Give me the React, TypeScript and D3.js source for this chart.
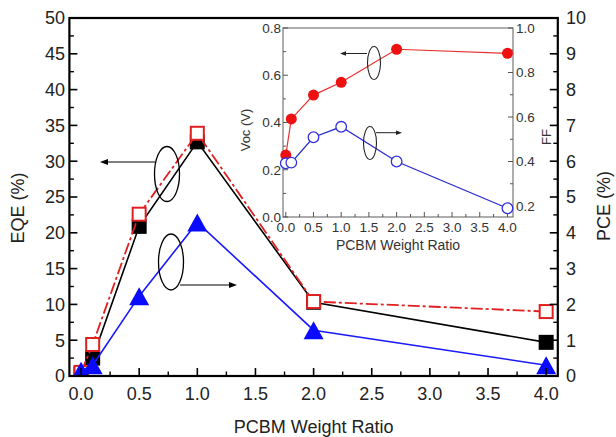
import React from "react";
import * as d3 from "d3";

const ratios = [0.0, 0.1, 0.5, 1.0, 2.0, 4.0];
const eqeBlack = [0.3, 2.5, 20.9, 32.7, 10.3, 4.7];
const eqeRed = [0.5, 4.4, 22.6, 33.9, 10.4, 9.0];
const pceBlue = [0.15, 0.3, 2.23, 4.29, 1.28, 0.3];
const vocInset = [0.262, 0.415, 0.516, 0.57, 0.71, 0.693];
const ffInset = [0.392, 0.395, 0.509, 0.556, 0.4, 0.19];

const xTicks = [0, 0.5, 1, 1.5, 2, 2.5, 3, 3.5, 4];
const eqeTicks = [0, 5, 10, 15, 20, 25, 30, 35, 40, 45, 50];
const pceTicks = [0, 1, 2, 3, 4, 5, 6, 7, 8, 9, 10];
const vocTicks = [0, 0.2, 0.4, 0.6, 0.8];
const ffTicks = [0.2, 0.4, 0.6, 0.8, 1.0];

const FONT = "'Liberation Sans', Arial, Helvetica, sans-serif";

export default function App() {
  const W = 616, H = 437;
  const L = 69.4, R = 557.8, T = 18, B = 376;
  const x = d3.scaleLinear().domain([-0.1, 4.1]).range([L, R]);
  const yE = d3.scaleLinear().domain([0, 50]).range([B, T]);
  const yP = d3.scaleLinear().domain([0, 10]).range([B, T]);

  const iL = 283, iR = 513, iT = 28, iB = 217;
  const xi = d3.scaleLinear().domain([-0.05, 4.1]).range([iL, iR]);
  const yV = d3.scaleLinear().domain([0, 0.8]).range([iB, iT]);
  const yF2 = d3.scaleLinear().domain([0.2, 1.0]).range([206, iT]);

  const lineE = (vals: number[]) =>
    d3.line<number>().x((_, i) => x(ratios[i])).y((v) => yE(v))(vals) || "";
  const lineP = d3.line<number>().x((_, i) => x(ratios[i])).y((v) => yP(v))(pceBlue) || "";
  const lineV = d3.line<number>().x((_, i) => xi(ratios[i])).y((v) => yV(v))(vocInset) || "";
  const lineF = d3.line<number>().x((_, i) => xi(ratios[i])).y((v) => yF2(v))(ffInset) || "";

  const minorX = d3.range(0, 17).map((i) => i * 0.25).filter((v) => v % 0.5 !== 0);
  const minorE = d3.range(0, 20).map((i) => i * 2.5 + 2.5).filter((v) => v % 5 !== 0);
  const minorP = d3.range(0, 10).map((i) => i + 0.5);
  const minorV = [0.1, 0.3, 0.5, 0.7];
  const minorF = [0.3, 0.5, 0.7, 0.9];

  const sq = 15;
  const tri = (cx: number, cy: number) => {
    const w = 20, h = 18;
    return `M${cx},${cy - h / 2}L${cx + w / 2},${cy + h / 2}L${cx - w / 2},${cy + h / 2}Z`;
  };

  const arrowHead = (x0: number, y0: number, dir: number) =>
    `M${x0},${y0}L${x0 - dir * 8},${y0 - 3}L${x0 - dir * 8},${y0 + 3}Z`;

  return (
    <svg width={W} height={H} style={{ position: "absolute", left: 0, top: 0, background: "#fff" }} fontFamily={FONT}>
      <defs>
        <clipPath id="plotClip">
          <rect x={L} y={T} width={R - L} height={B - T} />
        </clipPath>
      </defs>
      <rect x={0} y={0} width={W} height={H} fill="#fff" />

      {/* main data */}
      <g clipPath="url(#plotClip)">
        <path d={lineE(eqeBlack)} fill="none" stroke="#000" strokeWidth={1.6} />
        {eqeBlack.map((v, i) => (
          <rect key={"b" + i} x={x(ratios[i]) - sq / 2} y={yE(v) - sq / 2} width={sq} height={sq} fill="#000" />
        ))}
        <path d={lineE(eqeRed)} fill="none" stroke="#e02020" strokeWidth={1.8} strokeDasharray="12,3,3,3" />
        {eqeRed.map((v, i) => (
          <rect key={"r" + i} x={x(ratios[i]) - sq / 2 + 1} y={yE(v) - sq / 2 + 1} width={sq - 2} height={sq - 2} fill="#fff" stroke="#e02020" strokeWidth={2} />
        ))}
        <path d={lineP} fill="none" stroke="#1a1aff" strokeWidth={1.6} />
        {pceBlue.map((v, i) => (
          <path key={"t" + i} d={tri(x(ratios[i]), yP(v))} fill="#0a0aff" />
        ))}
      </g>

      {/* main legend ellipses and arrows */}
      <ellipse cx={167} cy={174} rx={12.5} ry={27.5} fill="none" stroke="#000" strokeWidth={1.3} />
      <line x1={155} y1={162} x2={104} y2={162} stroke="#000" strokeWidth={1.2} />
      <path d={arrowHead(100, 162, -1)} fill="#000" />
      <ellipse cx={171} cy={262} rx={12.5} ry={28} fill="none" stroke="#000" strokeWidth={1.3} />
      <line x1={180} y1={285} x2={233} y2={285} stroke="#000" strokeWidth={1.2} />
      <path d={arrowHead(237, 285, 1)} fill="#000" />

      {/* main frame */}
      <rect x={L} y={T} width={R - L} height={B - T} fill="none" stroke="#000" strokeWidth={2.2} />

      {/* main ticks */}
      {xTicks.map((t) => (
        <line key={"xt" + t} x1={x(t)} x2={x(t)} y1={B} y2={B - 8} stroke="#000" strokeWidth={1.6} />
      ))}
      {minorX.map((t) => (
        <line key={"xm" + t} x1={x(t)} x2={x(t)} y1={B} y2={B - 4.5} stroke="#000" strokeWidth={1.4} />
      ))}
      {eqeTicks.map((t) => (
        <line key={"et" + t} x1={L} x2={L + 8} y1={yE(t)} y2={yE(t)} stroke="#000" strokeWidth={1.6} />
      ))}
      {minorE.map((t) => (
        <line key={"em" + t} x1={L} x2={L + 4.5} y1={yE(t)} y2={yE(t)} stroke="#000" strokeWidth={1.4} />
      ))}
      {pceTicks.map((t) => (
        <line key={"pt" + t} x1={R} x2={R - 8} y1={yP(t)} y2={yP(t)} stroke="#000" strokeWidth={1.6} />
      ))}
      {minorP.map((t) => (
        <line key={"pm" + t} x1={R} x2={R - 4.5} y1={yP(t)} y2={yP(t)} stroke="#000" strokeWidth={1.4} />
      ))}

      {/* main tick labels */}
      {xTicks.map((t) => (
        <text key={"xl" + t} x={x(t)} y={400} fontSize={18} textAnchor="middle" fill="#222">
          {t.toFixed(1)}
        </text>
      ))}
      {eqeTicks.map((t) => (
        <text key={"el" + t} x={65} y={yE(t)} dy="0.36em" fontSize={18} textAnchor="end" fill="#222">
          {t}
        </text>
      ))}
      {pceTicks.map((t) => (
        <text key={"pl" + t} x={566} y={yP(t)} dy="0.36em" fontSize={18} textAnchor="start" fill="#222">
          {t}
        </text>
      ))}
      <text x={(L + R) / 2} y={433} fontSize={18} textAnchor="middle" fill="#222">PCBM Weight Ratio</text>
      <text transform="translate(24,208) rotate(-90)" fontSize={18} textAnchor="middle" fill="#222">EQE (%)</text>
      <text transform="translate(610,206) rotate(-90)" fontSize={18} textAnchor="middle" fill="#222">PCE (%)</text>

      {/* inset */}
      <rect x={iL} y={iT} width={iR - iL} height={iB - iT} fill="#fff" stroke="#777" strokeWidth={1.2} />
      {xTicks.map((t) => (
        <line key={"ixt" + t} x1={xi(t)} x2={xi(t)} y1={iB} y2={iB - 5} stroke="#555" strokeWidth={1} />
      ))}
      {minorX.map((t) => (
        <line key={"ixm" + t} x1={xi(t)} x2={xi(t)} y1={iB} y2={iB - 3} stroke="#555" strokeWidth={1} />
      ))}
      {vocTicks.map((t) => (
        <line key={"ivt" + t} x1={iL} x2={iL + 5} y1={yV(t)} y2={yV(t)} stroke="#555" strokeWidth={1} />
      ))}
      {minorV.map((t) => (
        <line key={"ivm" + t} x1={iL} x2={iL + 3} y1={yV(t)} y2={yV(t)} stroke="#555" strokeWidth={1} />
      ))}
      {ffTicks.map((t) => (
        <line key={"ift" + t} x1={iR} x2={iR - 5} y1={yF2(t)} y2={yF2(t)} stroke="#555" strokeWidth={1} />
      ))}
      {minorF.map((t) => (
        <line key={"ifm" + t} x1={iR} x2={iR - 3} y1={yF2(t)} y2={yF2(t)} stroke="#555" strokeWidth={1} />
      ))}
      {xTicks.map((t) => (
        <text key={"ixl" + t} x={xi(t)} y={232} fontSize={13.5} textAnchor="middle" fill="#333">
          {t.toFixed(1)}
        </text>
      ))}
      {vocTicks.map((t) => (
        <text key={"ivl" + t} x={281} y={yV(t)} dy="0.36em" fontSize={13.5} textAnchor="end" fill="#333">
          {t.toFixed(1)}
        </text>
      ))}
      {ffTicks.map((t) => (
        <text key={"ifl" + t} x={516} y={yF2(t)} dy="0.36em" fontSize={13.5} textAnchor="start" fill="#333">
          {t.toFixed(1)}
        </text>
      ))}
      <text x={(iL + iR) / 2} y={250} fontSize={14} textAnchor="middle" fill="#333">PCBM Weight Ratio</text>
      <text transform="translate(250,130) rotate(-90)" fontSize={13} textAnchor="middle" fill="#333">Voc (V)</text>
      <text transform="translate(551,137) rotate(-90)" fontSize={13} textAnchor="middle" fill="#333">FF</text>

      <path d={lineV} fill="none" stroke="#e83030" strokeWidth={1.2} />
      {vocInset.map((v, i) => (
        <circle key={"iv" + i} cx={xi(ratios[i])} cy={yV(v)} r={5.5} fill="#ee1111" />
      ))}
      <path d={lineF} fill="none" stroke="#2a2ad0" strokeWidth={1.3} />
      {ffInset.map((v, i) => (
        <circle key={"if" + i} cx={xi(ratios[i])} cy={yF2(v)} r={5.3} fill="#fff" stroke="#3030e0" strokeWidth={1.3} />
      ))}

      <ellipse cx={374} cy={63} rx={6.5} ry={16.5} fill="none" stroke="#222" strokeWidth={1.1} />
      <line x1={367} y1={53.5} x2={344} y2={53.5} stroke="#222" strokeWidth={1} />
      <path d={`M340,53.5L346,51.3L346,55.7Z`} fill="#222" />
      <ellipse cx={370} cy={143} rx={6.5} ry={16.5} fill="none" stroke="#222" strokeWidth={1.1} />
      <line x1={376} y1={132.7} x2={398} y2={132.7} stroke="#222" strokeWidth={1} />
      <path d={`M402,132.7L396,130.5L396,134.9Z`} fill="#222" />
    </svg>
  );
}
